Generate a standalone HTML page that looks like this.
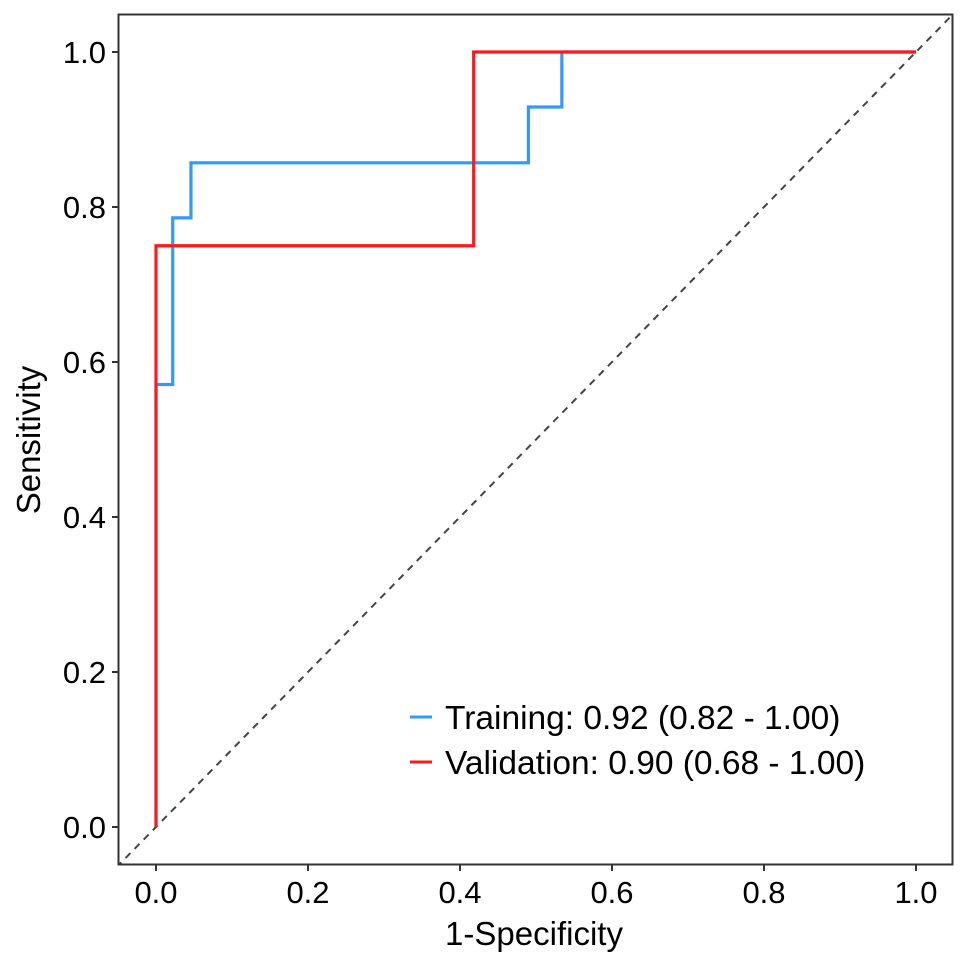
<!DOCTYPE html>
<html><head><meta charset="utf-8"><style>
body{margin:0;background:#fff}
text{font-family:"Liberation Sans",Arial,sans-serif;fill:#000}
</style></head><body>
<svg id="chart" width="969" height="963" xmlns="http://www.w3.org/2000/svg">
<defs><clipPath id="clip"><rect x="119" y="15" width="833" height="849"/></clipPath></defs>
<g id="series" clip-path="url(#clip)"></g>
<rect x="118.5" y="14.5" width="834" height="850" fill="none" stroke="#333" stroke-width="2"/>
<g id="axes"></g>
<text x="534" y="945" font-size="33" text-anchor="middle">1-Specificity</text>
<text x="0" y="0" font-size="33" text-anchor="middle" transform="translate(40,440) rotate(-90)">Sensitivity</text>
<g>
<line x1="410" y1="717" x2="432" y2="717" stroke="#3399ff" stroke-width="3"/>
<text x="445" y="729" font-size="33.5">Training: 0.92 (0.82 - 1.00)</text>
<line x1="410" y1="762" x2="432" y2="762" stroke="#ff1a1a" stroke-width="3"/>
<text x="445" y="774" font-size="33.5">Validation: 0.90 (0.68 - 1.00)</text>
</g>
</svg>
<script>
const ticks=[0,0.2,0.4,0.6,0.8,1.0];
const tickLabels=["0.0","0.2","0.4","0.6","0.8","1.0"];
const trainFpr=[0,0,0.022,0.022,0.046,0.046,0.49,0.49,0.534,0.534,1];
const trainTpr=[0,0.571,0.571,0.786,0.786,0.857,0.857,0.929,0.929,1,1];
const valFpr=[0,0,0.418,0.418,1];
const valTpr=[0,0.75,0.75,1,1];
const sx=v=>156+v*760, sy=v=>827-v*775;
const NS="http://www.w3.org/2000/svg";
const axes=document.getElementById('axes'), series=document.getElementById('series');
ticks.forEach((t,i)=>{
  let l=document.createElementNS(NS,'line');
  l.setAttribute('x1',sx(t));l.setAttribute('x2',sx(t));l.setAttribute('y1',865);l.setAttribute('y2',871);l.setAttribute('stroke','#333');l.setAttribute('stroke-width',2);
  
  
  axes.appendChild(l);
  let tx=document.createElementNS(NS,'text');
  tx.setAttribute('x',sx(t));tx.setAttribute('y',903);tx.setAttribute('font-size',31);tx.setAttribute('text-anchor','middle');tx.textContent=tickLabels[i];
  
  
  axes.appendChild(tx);
  let l2=document.createElementNS(NS,'line');
  l2.setAttribute('x1',112);l2.setAttribute('x2',118);l2.setAttribute('y1',sy(t));l2.setAttribute('y2',sy(t));l2.setAttribute('stroke','#333');l2.setAttribute('stroke-width',2);
  
  
  axes.appendChild(l2);
  let ty=document.createElementNS(NS,'text');
  ty.setAttribute('x',106);ty.setAttribute('y',sy(t)+11);ty.setAttribute('font-size',31);ty.setAttribute('text-anchor','end');ty.textContent=tickLabels[i];
  
  
  axes.appendChild(ty);
});
let d=document.createElementNS(NS,'line');
d.setAttribute('x1',sx(-0.1));d.setAttribute('y1',sy(-0.1));d.setAttribute('x2',sx(1.1));d.setAttribute('y2',sy(1.1));
d.setAttribute('stroke','#444');d.setAttribute('stroke-width',2);d.setAttribute('stroke-dasharray','7,6');


series.appendChild(d);
function path(xs,ys,color,name){
  let p=document.createElementNS(NS,'polyline');
  p.setAttribute('points',xs.map((x,i)=>sx(x)+','+sy(ys[i])).join(' '));
  p.setAttribute('fill','none');p.setAttribute('stroke',color);p.setAttribute('stroke-width',3.2);
  
  
  series.appendChild(p);
}
path(trainFpr,trainTpr,'#3399ff','training-roc-curve');
path(valFpr,valTpr,'#ff1a1a','validation-roc-curve');
</script>
</body></html>
